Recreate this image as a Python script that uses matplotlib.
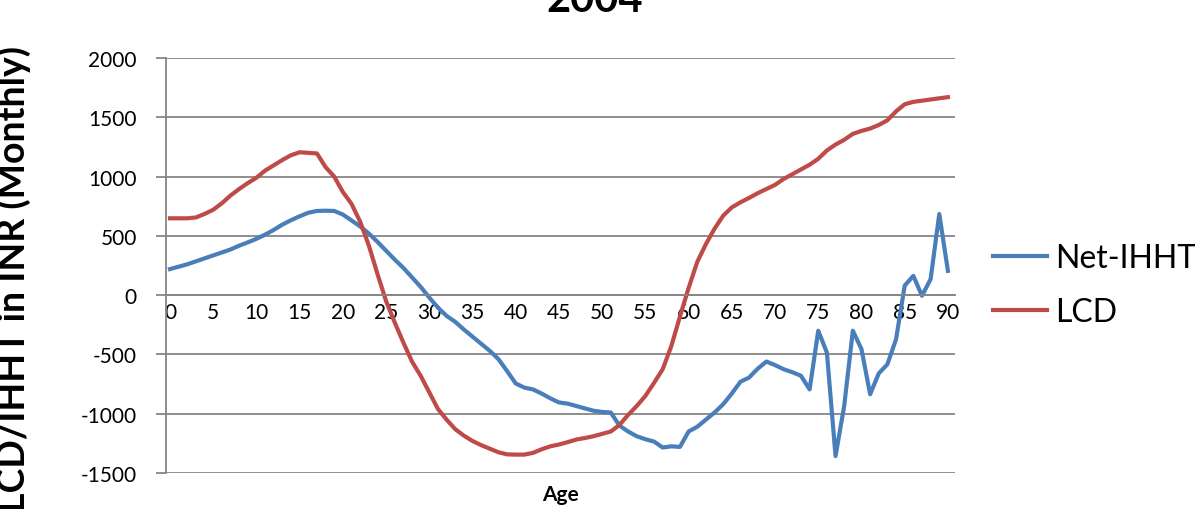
import matplotlib.pyplot as plt

plt.rcParams['font.family'] = ['Lato', 'DejaVu Sans']
plt.rcParams['axes.unicode_minus'] = False

ages = list(range(0, 91))

net_ihht = [
    220, 240, 260, 285, 310, 335, 360, 385, 417, 445,
    475, 510, 550, 595, 632, 665, 695, 710, 712, 710,
    680, 630, 580, 520, 450, 375, 300, 230, 150, 70,
    -20, -105, -175, -225, -290, -350, -410, -470, -540, -640,
    -745, -780, -795, -830, -870, -905, -915, -935, -955, -975,
    -985, -990, -1100, -1150, -1190, -1215, -1235, -1285, -1275, -1280,
    -1150, -1110, -1050, -990, -920, -830, -730, -695, -620, -560,
    -590, -625, -650, -680, -795, -300, -485, -1357, -935, -300,
    -455, -836, -660, -583, -372, 80, 163, -5, 135, 684,
    205,
]

lcd = [
    648, 648, 648, 655, 685, 720, 775, 840, 895, 945,
    990, 1050, 1095, 1140, 1180, 1205, 1200, 1195, 1080, 1000,
    870, 770, 620, 420, 180, -50, -230, -400, -560, -680,
    -820, -960, -1050, -1130, -1185, -1230, -1265, -1295, -1325, -1343,
    -1345, -1345, -1330, -1300, -1275, -1260, -1240, -1218, -1205, -1190,
    -1170, -1150, -1095, -1010, -935, -850, -740, -625, -430, -180,
    60, 280, 430, 560, 670, 740, 783, 820, 860, 895,
    930, 980, 1020, 1060, 1100, 1150, 1220, 1270, 1310, 1360,
    1385, 1405, 1435, 1475, 1550, 1610, 1630, 1640, 1650, 1660,
    1670,
]

grid_col = '#868686'

fig = plt.figure(figsize=(11.95, 5.10), dpi=100)
ax = fig.add_axes([166 / 1195, 1 - 474 / 510, (955 - 166) / 1195, (474 - 59) / 510])

ax.plot(ages, net_ihht, color='#4A7EBB', lw=3.0, label='Net-IHHT', solid_joinstyle='round')
ax.plot(ages, lcd, color='#BE4B48', lw=3.0, label='LCD', solid_joinstyle='round')

ax.set_xlim(-0.46, 90.82)
ax.set_ylim(-1500, 2000)
ax.set_yticks(range(-1500, 2001, 500))
ax.set_xticks(range(0, 91, 5))

ax.grid(axis='y', color=grid_col, lw=1.3)
ax.set_axisbelow(True)
for s in ['top', 'right']:
    ax.spines[s].set_visible(False)
ax.spines['left'].set_color(grid_col)
ax.spines['left'].set_linewidth(1.3)
ax.spines['bottom'].set_position(('data', 0))
ax.spines['bottom'].set_color(grid_col)
ax.spines['bottom'].set_linewidth(1.3)

ax.tick_params(axis='y', length=7, color=grid_col, width=1.3, pad=14, labelsize=15)
ax.tick_params(axis='x', length=0, pad=5, labelsize=15)

ax.set_ylabel('LCD/IHHT in INR (Monthly)', fontsize=27, fontweight='bold')
ax.yaxis.set_label_coords(-135 / 789, 0.47)
fig.text(560 / 1195, 1 - 495 / 510, 'Age', ha='center', va='center',
         fontsize=15, fontweight='bold')
fig.text(595 / 1195, 1 - 12 / 510, '2004', ha='center', va='baseline',
         fontsize=30, fontweight='bold')

fig.legend(loc='center left', bbox_to_anchor=(993 / 1195, 1 - 286 / 510),
           frameon=False, fontsize=23, handlelength=1.7, handletextpad=0.25,
           borderpad=0, borderaxespad=0, labelspacing=0.75)

fig.savefig('out.png', dpi=100)
